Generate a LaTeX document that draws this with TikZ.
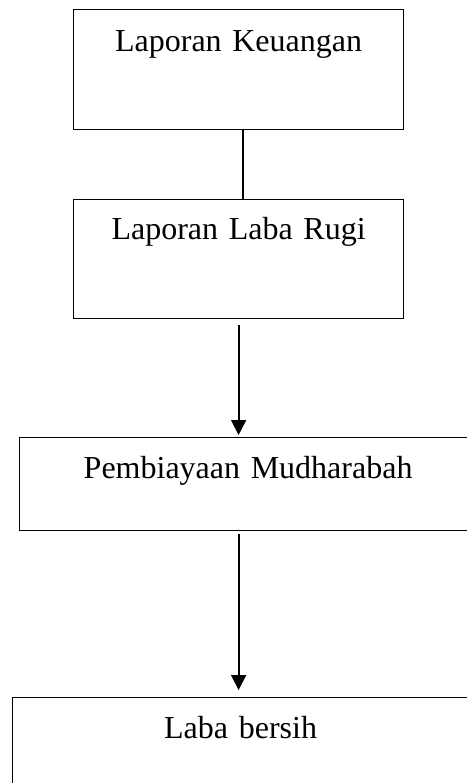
\documentclass[tikz,border=0pt]{standalone}
\usepackage{fontspec}
\setmainfont{Liberation Serif}
\usetikzlibrary{arrows.meta}

\begin{document}
\begin{tikzpicture}[x=1pt, y=-1pt, line width=1.2pt,
  box/.style={draw, rectangle, anchor=north west, inner sep=0pt, align=center, font=\fontsize{32}{38}\selectfont},
  arr/.style={-{Triangle[width=15pt,length=15pt]}, line width=1.8pt}]
  \useasboundingbox (0,0) rectangle (466,783);
  \node[box, text width=330pt, text height=42pt, text depth=78pt] (lk) at (73,9) {Laporan Keuangan};
  \node[box, text width=330pt, text height=40pt, text depth=79pt] (llr) at (73,199) {Laporan Laba Rugi};
  \node[box, text width=457pt, text height=41pt, text depth=52pt] (pm) at (19,437) {Pembiayaan Mudharabah};
  \node[box, text width=456pt, text height=41pt, text depth=70pt] (lb) at (12,697) {Laba bersih};
  % Draw the connectors
  \draw[line width=1.8pt] ([xshift=4pt]lk.south) -- ([xshift=4pt]llr.north);
  \draw[arr, shorten <=6pt, shorten >=2pt] (llr.south) -- (llr.south |- pm.north);
  \draw[arr, shorten <=3pt, shorten >=7pt] (pm.south -| llr.south) -- (lb.north -| llr.south);
\end{tikzpicture}
\end{document}
